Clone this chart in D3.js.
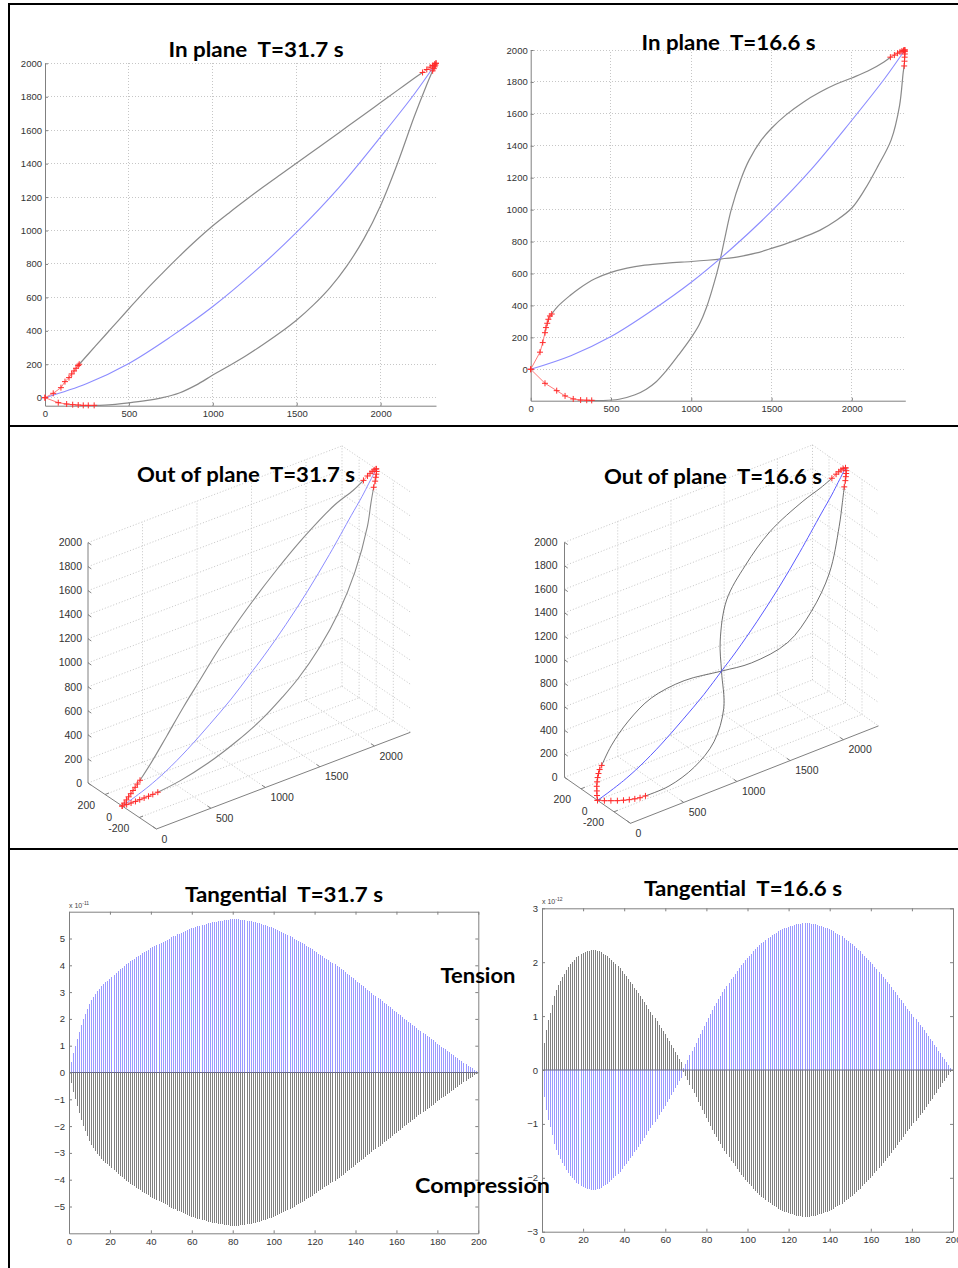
<!DOCTYPE html>
<html>
<head>
<meta charset="utf-8">
<script src="https://cdn.jsdelivr.net/npm/d3@7"></script>
<style>
  body { margin: 0; background: #fff; }
  svg { display: block; }
</style>
</head>
<body>
<svg id="fig" width="958" height="1268"></svg>
<script>
// ---------------------------------------------------------------
// Cable mode shapes (in plane / out of plane) and tangential forces
// ---------------------------------------------------------------

// Tick values
const planeXTicks = [0, 500, 1000, 1500, 2000];
const planeYTicks = [0, 200, 400, 600, 800, 1000, 1200, 1400, 1600, 1800, 2000];
const spaceXTicks = [0, 500, 1000, 1500, 2000];
const spaceYTicks = [200, 0, -200];
const spaceZTicks = [0, 200, 400, 600, 800, 1000, 1200, 1400, 1600, 1800, 2000];
const tanXTicks = [0, 20, 40, 60, 80, 100, 120, 140, 160, 180, 200];
const tan31YTicks = [-5, -4, -3, -2, -1, 0, 1, 2, 3, 4, 5];
const tan166YTicks = [-3, -2, -1, 0, 1, 2, 3];

// Static cable profile (horizontal position, height), m
const staticX = [0, 250, 500, 750, 1000, 1250, 1500, 1750, 2000, 2200, 2330];
const staticZ = [0, 85, 205, 365, 545, 755, 990, 1255, 1560, 1815, 2000];

// In-plane mode, T = 31.7 s: displaced profiles (x, z)
const ip31UpperRed = [[0,0],[49,26],[95,60],[119,96],[143,120],[159,142],[173,160],[185,176],[198,192],[204,200]];
const ip31Upper = [[204,200],[300,308],[400,420],[500,532],[600,642],[700,745],[800,845],[900,940],[1000,1028],[1100,1108],[1200,1185],[1300,1260],[1400,1332],[1500,1403],[1600,1475],[1700,1547],[1800,1620],[1900,1692],[2000,1765],[2100,1838],[2200,1910],[2250,1945]];
const ip31UpperEndRed = [[2250,1945],[2275,1963],[2295,1977],[2310,1987],[2322,1995],[2330,2000]];
const ip31LowerRed = [[0,0],[79,-30],[129,-38],[165,-42],[198,-44],[228,-46],[258,-46],[293,-46]];
const ip31Lower = [[293,-46],[400,-41],[500,-31],[600,-18],[700,0],[800,28],[900,75],[1000,135],[1100,192],[1200,252],[1300,318],[1400,388],[1500,465],[1600,555],[1700,660],[1800,790],[1900,950],[2000,1150],[2100,1400],[2200,1680],[2270,1860],[2310,1955]];
const ip31LowerEndRed = [[2310,1955],[2317,1968],[2322,1979],[2326,1989],[2330,2000]];

// In-plane mode, T = 16.6 s
const ip16UpperRed = [[0,0],[58,107],[75,167],[89,229],[95,261],[103,288],[110,313],[120,334],[131,346]];
const ip16Upper = [[131,346],[170,395],[245,462],[300,505],[400,567],[500,607],[600,634],[710,652],[850,665],[1000,675],[1100,683],[1190,692],[1300,706],[1400,727],[1500,757],[1600,790],[1700,828],[1800,870],[1900,930],[2000,1010],[2080,1125],[2160,1268],[2245,1437],[2297,1650],[2320,1860],[2326,1900]];
const ip16UpperEndRed = [[2326,1900],[2328,1930],[2329,1955],[2330,1975],[2330,1990],[2330,2000]];
const ip16LowerRed = [[0,0],[89,-88],[162,-134],[214,-167],[265,-186],[311,-193],[349,-194],[380,-195]];
const ip16Lower = [[380,-195],[450,-196],[550,-188],[650,-160],[720,-125],[780,-80],[844,-10],[920,88],[1000,198],[1050,280],[1094,385],[1156,590],[1181,690],[1215,850],[1249,1000],[1311,1195],[1360,1310],[1436,1435],[1500,1510],[1592,1595],[1700,1675],[1800,1735],[1900,1785],[2000,1825],[2100,1868],[2200,1925],[2240,1955]];
const ip16LowerEndRed = [[2240,1955],[2265,1968],[2285,1980],[2300,1988],[2312,1994],[2322,1998],[2330,2000]];

// Out-of-plane modes: nodes along the static profile and lateral displacement
const oopX = [0, 30, 60, 90, 120, 150, 180, 210, 245, 400, 600, 800, 1000, 1165, 1300, 1500, 1700, 1900, 2100, 2200, 2260, 2285, 2300, 2312, 2322, 2330];
const oopZ = [0, 8, 17, 26, 36, 46, 56, 67, 80, 150, 265, 400, 545, 685, 800, 990, 1200, 1435, 1690, 1815, 1900, 1935, 1957, 1974, 1988, 2000];
const oop31Y = [0, 14, 27, 40, 52, 65, 78, 90, 104, 165, 240, 305, 355, 385, 398, 395, 365, 300, 190, 105, 60, 45, 34, 24, 14, 0];
const oop16Y = [0, 45, 85, 125, 160, 192, 220, 245, 265, 350, 400, 380, 240, 0, -190, -370, -400, -360, -220, -130, -75, -56, -43, -31, -18, 0];
const redHead = 9;   // nodes highlighted at the lower anchor
const redTail = 6;   // nodes highlighted at the upper anchor

// Tangential force per element (x 1e-11), T = 31.7 s
const tan31 = [
  0.00,0.40,0.72,1.00,1.26,1.50,1.76,2.00,2.20,2.38,
  2.55,2.69,2.82,2.94,3.04,3.13,3.21,3.29,3.36,3.43,
  3.50,3.57,3.64,3.71,3.78,3.85,3.91,3.97,4.03,4.09,
  4.15,4.20,4.25,4.30,4.35,4.40,4.45,4.50,4.54,4.58,
  4.63,4.67,4.71,4.76,4.80,4.84,4.88,4.92,4.96,5.00,
  5.04,5.08,5.11,5.15,5.18,5.22,5.25,5.29,5.32,5.35,
  5.38,5.40,5.43,5.45,5.48,5.50,5.52,5.54,5.56,5.58,
  5.60,5.62,5.63,5.65,5.66,5.67,5.68,5.69,5.70,5.71,
  5.72,5.72,5.71,5.71,5.70,5.69,5.68,5.67,5.65,5.64,
  5.62,5.60,5.58,5.56,5.54,5.52,5.49,5.47,5.44,5.42,
  5.39,5.36,5.32,5.29,5.25,5.21,5.17,5.13,5.09,5.04,
  5.00,4.96,4.91,4.87,4.82,4.78,4.73,4.69,4.64,4.59,
  4.54,4.49,4.44,4.39,4.34,4.29,4.24,4.19,4.14,4.09,
  4.04,3.99,3.93,3.87,3.81,3.75,3.69,3.63,3.57,3.51,
  3.45,3.39,3.33,3.27,3.21,3.15,3.09,3.03,2.97,2.91,
  2.85,2.79,2.73,2.67,2.61,2.55,2.49,2.43,2.37,2.31,
  2.25,2.19,2.13,2.07,2.01,1.95,1.89,1.84,1.78,1.72,
  1.66,1.60,1.55,1.49,1.43,1.37,1.31,1.26,1.20,1.14,
  1.08,1.02,0.97,0.91,0.86,0.80,0.75,0.69,0.64,0.58,
  0.53,0.48,0.42,0.37,0.32,0.26,0.21,0.16,0.10,0.05,
  0.00
];

// Tangential force per element (x 1e-12), T = 16.6 s
const tan16 = [
  0.00,-0.50,-0.75,-0.92,-1.05,-1.20,-1.38,-1.48,-1.57,-1.65,
  -1.72,-1.79,-1.85,-1.91,-1.96,-2.01,-2.05,-2.09,-2.12,-2.15,
  -2.17,-2.19,-2.20,-2.21,-2.22,-2.22,-2.22,-2.21,-2.20,-2.18,
  -2.16,-2.14,-2.11,-2.08,-2.05,-2.01,-1.97,-1.93,-1.89,-1.84,
  -1.79,-1.74,-1.69,-1.64,-1.59,-1.53,-1.48,-1.42,-1.37,-1.31,
  -1.26,-1.20,-1.14,-1.08,-1.02,-0.96,-0.90,-0.84,-0.78,-0.72,
  -0.66,-0.60,-0.53,-0.47,-0.41,-0.34,-0.28,-0.21,-0.14,0.03,
  0.11,0.19,0.27,0.35,0.43,0.51,0.59,0.67,0.74,0.82,
  0.89,0.97,1.04,1.11,1.18,1.25,1.31,1.38,1.44,1.50,
  1.56,1.62,1.68,1.73,1.79,1.84,1.89,1.94,1.99,2.04,
  2.08,2.12,2.16,2.20,2.24,2.28,2.31,2.35,2.38,2.41,
  2.44,2.47,2.50,2.52,2.55,2.57,2.59,2.61,2.63,2.64,
  2.66,2.67,2.68,2.69,2.70,2.71,2.71,2.72,2.72,2.72,
  2.72,2.71,2.71,2.70,2.69,2.68,2.67,2.66,2.64,2.63,
  2.61,2.59,2.57,2.55,2.53,2.50,2.48,2.45,2.42,2.39,
  2.36,2.33,2.30,2.27,2.23,2.20,2.16,2.12,2.08,2.04,
  2.00,1.96,1.91,1.87,1.82,1.78,1.73,1.68,1.64,1.59,
  1.54,1.49,1.44,1.39,1.34,1.29,1.24,1.19,1.14,1.09,
  1.04,0.99,0.94,0.89,0.84,0.79,0.74,0.69,0.64,0.58,
  0.53,0.47,0.42,0.36,0.31,0.25,0.20,0.14,0.09,0.04,
  0.00
];

// ---------------------------------------------------------------
const svg = d3.select('#fig');
const TITLE_FONT = 'Lato, "Noto Sans", sans-serif';
const TICK_FONT = '"Liberation Sans", Arial, sans-serif';
const GRID_COLOR = '#c6c6c6';
const AXIS_COLOR = '#808080';
const RED = '#ff2b2b';
const RED_LINE = '#ff7a7a';
const intFmt = d3.format('d');

// Panel frame
const frame = svg.append('g').attr('stroke', '#000').attr('shape-rendering', 'crispEdges');
frame.append('line').attr('x1', 8).attr('x2', 958).attr('y1', 4).attr('y2', 4).attr('stroke-width', 2.5);
frame.append('line').attr('x1', 9).attr('x2', 9).attr('y1', 3).attr('y2', 1268).attr('stroke-width', 2);
frame.append('line').attr('x1', 9).attr('x2', 958).attr('y1', 425.5).attr('y2', 425.5).attr('stroke-width', 2);
frame.append('line').attr('x1', 9).attr('x2', 958).attr('y1', 848.5).attr('y2', 848.5).attr('stroke-width', 2);

function title(txt, cx, base, width, size) {
  svg.append('text')
    .attr('x', cx).attr('y', base)
    .attr('text-anchor', 'middle')
    .attr('font-family', TITLE_FONT).attr('font-weight', 700)
    .attr('font-size', size)
    .attr('textLength', width).attr('lengthAdjust', 'spacingAndGlyphs')
    .style('white-space', 'pre')
    .attr('fill', '#000')
    .text(txt);
}

function styleAxis(g, size) {
  g.attr('font-family', TICK_FONT).attr('font-size', size);
  g.select('.domain').attr('stroke', AXIS_COLOR);
  g.selectAll('.tick line').attr('stroke', AXIS_COLOR);
  g.selectAll('.tick text').attr('fill', '#333');
}

function plusMarks(g, pts) {
  g.append('g').selectAll('path').data(pts).join('path')
    .attr('d', 'M-3,0H3M0,-3V3')
    .attr('transform', d => `translate(${d[0]},${d[1]})`)
    .attr('stroke', RED).attr('stroke-width', 1).attr('fill', 'none');
}

// ---------- In-plane panels ----------
function drawPlane(cfg) {
  const x = d3.scaleLinear().domain(cfg.xDomain).range(cfg.xRange);
  const y = d3.scaleLinear().domain(cfg.yDomain).range(cfg.yRange);
  const g = svg.append('g');

  const grid = g.append('g').attr('stroke', GRID_COLOR).attr('stroke-dasharray', '1,2')
    .attr('shape-rendering', 'crispEdges');
  grid.selectAll('.gx').data(planeXTicks.filter(v => v > 0)).join('line')
    .attr('x1', d => x(d)).attr('x2', d => x(d))
    .attr('y1', cfg.yRange[0]).attr('y2', cfg.yRange[1]);
  grid.selectAll('.gy').data(planeYTicks).join('line')
    .attr('y1', d => y(d)).attr('y2', d => y(d))
    .attr('x1', cfg.xRange[0]).attr('x2', cfg.xRange[1]);

  const ax = g.append('g').attr('transform', `translate(0,${cfg.yRange[0]})`)
    .call(d3.axisBottom(x).tickValues(planeXTicks).tickFormat(intFmt)
      .tickSize(-3).tickSizeOuter(0).tickPadding(5));
  const ay = g.append('g').attr('transform', `translate(${cfg.xRange[0]},0)`)
    .call(d3.axisLeft(y).tickValues(planeYTicks).tickFormat(intFmt)
      .tickSize(-3).tickSizeOuter(0).tickPadding(3));
  styleAxis(ax, 9.5); styleAxis(ay, 9.5);

  const smooth = d3.line().x(d => x(d[0])).y(d => y(d[1])).curve(d3.curveCatmullRom.alpha(0.5));
  const straight = d3.line().x(d => x(d[0])).y(d => y(d[1]));

  cfg.gray.forEach(c => g.append('path').attr('d', smooth(c))
    .attr('fill', 'none').attr('stroke', '#8a8a8a').attr('stroke-width', 1.2));
  const blue = staticX.map((v, i) => [v, staticZ[i]]);
  g.append('path').attr('d', smooth(blue))
    .attr('fill', 'none').attr('stroke', '#8c8cff').attr('stroke-width', 1.1);
  cfg.red.forEach(c => {
    g.append('path').attr('d', straight(c))
      .attr('fill', 'none').attr('stroke', RED_LINE).attr('stroke-width', 1);
    plusMarks(g, c.map(p => [x(p[0]), y(p[1])]));
  });
}

drawPlane({
  xDomain: [0, 2330], xRange: [45, 436],
  yDomain: [-48, 2000], yRange: [405.7, 63.3],
  gray: [ip31Upper, ip31Lower],
  red: [ip31UpperRed, ip31LowerRed, ip31UpperEndRed, ip31LowerEndRed]
});
drawPlane({
  xDomain: [0, 2333], xRange: [530.7, 905.3],
  yDomain: [-197, 2000], yRange: [400.7, 50],
  gray: [ip16Upper, ip16Lower],
  red: [ip16UpperRed, ip16LowerRed, ip16UpperEndRed, ip16LowerEndRed]
});

// ---------- Out-of-plane (3-D) panels ----------
function drawSpace(cfg, lateral) {
  const sx = d3.scaleLinear().domain([0, cfg.xMax]).range([0, 1]);
  const sy = d3.scaleLinear().domain([400, -400]).range([0, 1]);
  const sz = d3.scaleLinear().domain([0, 2000]).range([0, 1]);
  const P = (x, y, z) => [
    cfg.L[0] + sx(x) * cfg.X[0] + sy(y) * cfg.Y[0] + sz(z) * cfg.Z[0],
    cfg.L[1] + sx(x) * cfg.X[1] + sy(y) * cfg.Y[1] + sz(z) * cfg.Z[1]
  ];
  const g = svg.append('g');
  const seg = (a, b) => ({ a, b });
  const gridSegs = [];
  // floor
  spaceXTicks.filter(v => v > 0).forEach(v => gridSegs.push(seg(P(v, 400, 0), P(v, -400, 0))));
  spaceYTicks.forEach(v => gridSegs.push(seg(P(0, v, 0), P(cfg.xMax, v, 0))));
  // back wall
  spaceXTicks.filter(v => v > 0).concat([cfg.xMax]).forEach(v => gridSegs.push(seg(P(v, 400, 0), P(v, 400, 2000))));
  spaceZTicks.forEach(v => gridSegs.push(seg(P(0, 400, v), P(cfg.xMax, 400, v))));
  // side wall
  spaceYTicks.forEach(v => gridSegs.push(seg(P(cfg.xMax, v, 0), P(cfg.xMax, v, 2000))));
  spaceZTicks.forEach(v => gridSegs.push(seg(P(cfg.xMax, 400, v), P(cfg.xMax, -400, v))));

  g.append('g').attr('stroke', GRID_COLOR).attr('stroke-dasharray', '1,2')
    .selectAll('line').data(gridSegs).join('line')
    .attr('x1', d => d.a[0]).attr('y1', d => d.a[1])
    .attr('x2', d => d.b[0]).attr('y2', d => d.b[1]);

  // axes
  const axes = [
    seg(P(0, 400, 0), P(0, 400, 2000)),
    seg(P(0, 400, 0), P(0, -400, 0)),
    seg(P(0, -400, 0), P(cfg.xMax, -400, 0))
  ];
  g.append('g').attr('stroke', AXIS_COLOR).attr('stroke-width', 1)
    .selectAll('line').data(axes).join('line')
    .attr('x1', d => d.a[0]).attr('y1', d => d.a[1])
    .attr('x2', d => d.b[0]).attr('y2', d => d.b[1]);

  const unit = v => { const n = Math.hypot(v[0], v[1]); return [v[0] / n, v[1] / n]; };
  const uX = unit(cfg.X), uY = unit(cfg.Y);
  const ticks = [];
  spaceZTicks.forEach(v => { const p = P(0, 400, v); ticks.push(seg(p, [p[0] + uY[0] * 4, p[1] + uY[1] * 4])); });
  spaceXTicks.forEach(v => { const p = P(v, -400, 0); ticks.push(seg(p, [p[0] - uY[0] * 4, p[1] - uY[1] * 4])); });
  spaceYTicks.forEach(v => { const p = P(0, v, 0); ticks.push(seg(p, [p[0] + uX[0] * 4, p[1] + uX[1] * 4])); });
  g.append('g').attr('stroke', AXIS_COLOR)
    .selectAll('line').data(ticks).join('line')
    .attr('x1', d => d.a[0]).attr('y1', d => d.a[1])
    .attr('x2', d => d.b[0]).attr('y2', d => d.b[1]);

  const lbl = g.append('g').attr('font-family', TICK_FONT).attr('font-size', 10.5).attr('fill', '#333');
  lbl.selectAll('.zl').data(spaceZTicks).join('text')
    .attr('x', d => P(0, 400, d)[0] - cfg.zLabelGap).attr('y', d => P(0, 400, d)[1])
    .attr('dy', '0.35em').attr('text-anchor', 'end').text(d => d);
  lbl.selectAll('.xl').data(spaceXTicks).join('text')
    .attr('x', d => P(d, -400, 0)[0] + 5).attr('y', d => P(d, -400, 0)[1] + 10)
    .attr('dy', '0.35em').attr('text-anchor', 'start').text(d => d);
  lbl.selectAll('.yl').data(spaceYTicks).join('text')
    .attr('x', d => P(0, d, 0)[0] - 10).attr('y', d => P(0, d, 0)[1] + 11)
    .attr('dy', '0.35em').attr('text-anchor', 'end').text(d => d);

  // curves
  const smooth = d3.line().curve(d3.curveCatmullRom.alpha(0.5));
  const straight = d3.line();
  const n = oopX.length;
  const node = (i, s) => P(oopX[i], s * lateral[i], oopZ[i]);
  const idx = d3.range(n);
  const grayIdx = idx.slice(redHead - 1, n - redTail + 1);
  const headIdx = idx.slice(0, redHead);
  const tailIdx = idx.slice(n - redTail);
  [1, -1].forEach(s => {
    g.append('path').attr('d', smooth(grayIdx.map(i => node(i, s))))
      .attr('fill', 'none').attr('stroke', cfg.gray).attr('stroke-width', cfg.grayWidth);
  });
  g.append('path').attr('d', smooth(idx.map(i => P(oopX[i], 0, oopZ[i]))))
    .attr('fill', 'none').attr('stroke', cfg.blue).attr('stroke-width', 1);
  [1, -1].forEach(s => {
    [headIdx, tailIdx].forEach(part => {
      const pts = part.map(i => node(i, s));
      g.append('path').attr('d', straight(pts))
        .attr('fill', 'none').attr('stroke', RED_LINE).attr('stroke-width', 1);
      plusMarks(g, pts);
    });
  });
}

drawSpace({ L: [88, 783], X: [254, -96.7], Y: [68.4, 46], Z: [0, -240.4], xMax: 2330,
            gray: '#8a8a8a', grayWidth: 1.1, blue: '#8c8cff', zLabelGap: 6 }, oop31Y);
drawSpace({ L: [564.5, 777.3], X: [248, -97.4], Y: [66, 46], Z: [0, -235], xMax: 2330,
            gray: '#4d4d4d', grayWidth: 0.8, blue: '#5a5aff', zLabelGap: 7 }, oop16Y);

// ---------- Tangential force panels ----------
function drawTangential(cfg, values) {
  const x = d3.scaleLinear().domain([0, 200]).range(cfg.xRange);
  const y = d3.scaleLinear().domain(cfg.yDomain).range(cfg.yRange);
  const g = svg.append('g');

  const stems = g.append('g').attr('shape-rendering', 'crispEdges');
  stems.selectAll('.neg').data(values).join('line')
    .attr('x1', (d, i) => x(i)).attr('x2', (d, i) => x(i))
    .attr('y1', y(0)).attr('y2', d => y(-d))
    .attr('stroke', '#2b2b2b').attr('stroke-opacity', 0.6).attr('stroke-width', 1);
  stems.selectAll('.pos').data(values).join('line')
    .attr('x1', (d, i) => x(i)).attr('x2', (d, i) => x(i))
    .attr('y1', y(0)).attr('y2', d => y(d))
    .attr('stroke', '#6f6fff').attr('stroke-opacity', 0.7).attr('stroke-width', 1);
  g.append('line').attr('x1', cfg.xRange[0]).attr('x2', cfg.xRange[1])
    .attr('y1', y(0)).attr('y2', y(0)).attr('stroke', '#6a6a8c').attr('stroke-width', 1.2);

  const ax = g.append('g').attr('transform', `translate(0,${cfg.yRange[0]})`)
    .call(d3.axisBottom(x).tickValues(tanXTicks).tickFormat(intFmt)
      .tickSize(-3).tickSizeOuter(0).tickPadding(5));
  const axT = g.append('g').attr('transform', `translate(0,${cfg.yRange[1]})`)
    .call(d3.axisTop(x).tickValues(tanXTicks).tickSize(-3).tickSizeOuter(0).tickFormat(''));
  const ay = g.append('g').attr('transform', `translate(${cfg.xRange[0]},0)`)
    .call(d3.axisLeft(y).tickValues(cfg.yTicks).tickFormat(intFmt)
      .tickSize(-3).tickSizeOuter(0).tickPadding(4));
  const ayR = g.append('g').attr('transform', `translate(${cfg.xRange[1]},0)`)
    .call(d3.axisRight(y).tickValues(cfg.yTicks).tickSize(-3).tickSizeOuter(0).tickFormat(''));
  [ax, axT, ay, ayR].forEach(a => styleAxis(a, 9.5));

  const ex = g.append('text').attr('x', cfg.xRange[0]).attr('y', cfg.yRange[1] - 4)
    .attr('font-family', TICK_FONT).attr('font-size', 7).attr('fill', '#444');
  ex.append('tspan').text('x 10');
  ex.append('tspan').attr('dy', -3).attr('font-size', 5).text(cfg.exponent);
}

drawTangential({ xRange: [69, 478.3], yDomain: [-6, 6], yRange: [1233.3, 911.7],
                 yTicks: tan31YTicks, exponent: '-11' }, tan31);
drawTangential({ xRange: [542, 953], yDomain: [-3, 3], yRange: [1231.7, 908.3],
                 yTicks: tan166YTicks, exponent: '-12' }, tan16);

// ---------- Titles and annotations ----------
title('In plane  T=31.7 s', 256, 57, 175, 21);
title('In plane  T=16.6 s', 728.5, 50, 174, 21);
title('Out of plane  T=31.7 s', 246, 482, 218, 21);
title('Out of plane  T=16.6 s', 713, 484, 218, 21);
title('Tangential  T=31.7 s', 284, 902, 198, 21);
title('Tangential  T=16.6 s', 743, 896, 198, 21);
title('Tension', 478, 983, 75, 20);
title('Compression', 482.5, 1193, 135, 20);
</script>
</body>
</html>
